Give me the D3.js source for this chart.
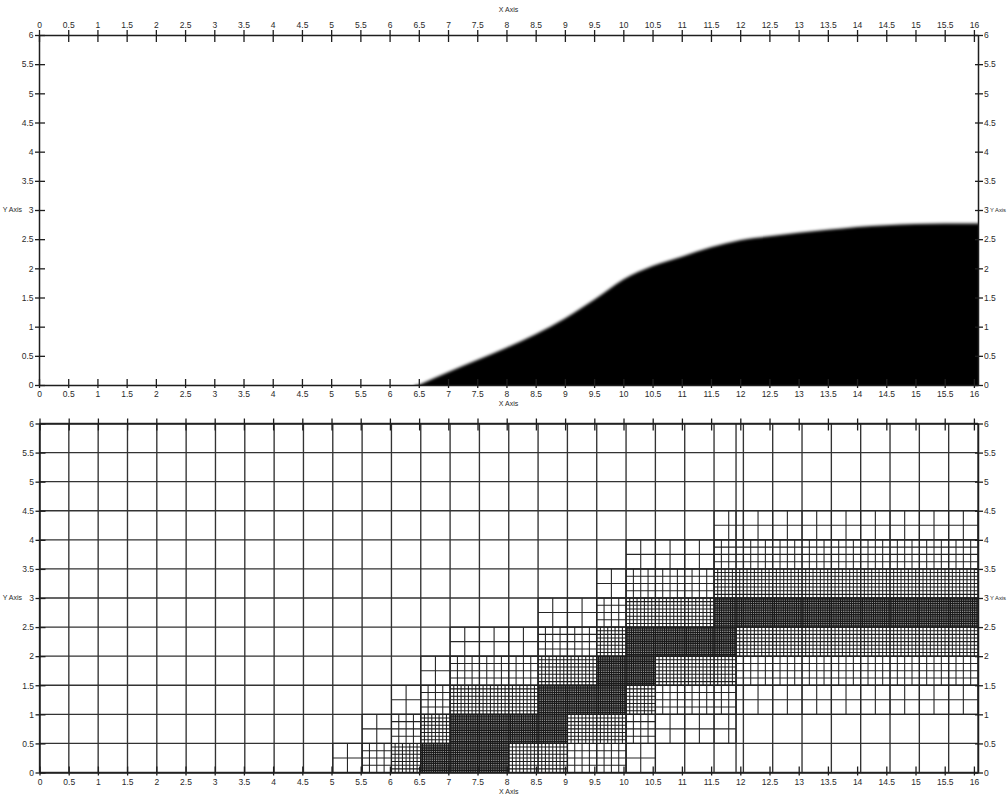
<!DOCTYPE html>
<html><head><meta charset="utf-8">
<script src="https://cdn.jsdelivr.net/npm/d3@7"></script>
<style>
html,body{margin:0;padding:0;background:#fff;}
svg{display:block;}
</style></head><body>
<svg id="c" width="1008" height="796"></svg>
<script>
// ---- data ----
const xTicks = [0,0.5,1,1.5,2,2.5,3,3.5,4,4.5,5,5.5,6,6.5,7,7.5,8,8.5,9,9.5,10,10.5,11,11.5,12,12.5,13,13.5,14,14.5,15,15.5,16];
const yTicks = [0,0.5,1,1.5,2,2.5,3,3.5,4,4.5,5,5.5,6];
const xExtent = [0, 16.07];
const yExtent = [0, 6];
const axisTitleX = "X Axis";
const axisTitleY = "Y Axis";

// top panel: filled front (upper boundary of dark region)
const frontX = [6.5, 7, 7.5, 8, 8.5, 9, 9.5, 10, 10.5, 11, 11.5, 12, 12.5, 13, 13.5, 14, 14.5, 15, 15.5, 16.07];
const frontY = [0, 0.22, 0.43, 0.64, 0.87, 1.14, 1.46, 1.81, 2.04, 2.2, 2.36, 2.48, 2.55, 2.61, 2.66, 2.71, 2.74, 2.76, 2.77, 2.77];

// bottom panel: AMR mesh, mesh units 0..16 x 0..6, cell size = 0.5 / 2^level
const meshExtent = [0, 16];
const blocksL0 = [[0,16,0,6],[11.875,16,0,6]];
const blocksL1 = [[5,5.5,0,0.5],[5.5,6,0.5,1],[6,6.5,1,1.5],[6.5,7,1.5,2],[7,8.5,2,2.5],[8.5,9.5,2.5,3],
  [9.5,10,3,3.5],[10,11.5,3.5,4],[11.5,11.875,4,4.5],[11.875,16,4,4.5],[10,10.5,0,0.5],[10.5,11.875,0.5,1],[11.875,16,1,1.5]];
const blocksL2 = [[5.5,6,0,0.5],[6,6.5,0.5,1],[6.5,7,1,1.5],[7,8.5,1.5,2],[8.5,9.5,2,2.5],[9.5,10,2.5,3],
  [10,11.5,3,3.5],[11.5,11.875,3.5,4],[11.875,16,3.5,4],[9,10,0,0.5],[10,10.5,0.5,1],[10.5,11.875,1,1.5],[11.875,16,1.5,2]];
const blocksL3 = [[6,6.5,0,0.5],[6.5,7,0.5,1],[7,8.5,1,1.5],[8.5,9.5,1.5,2],[9.5,10,2,2.5],[10,11.5,2.5,3],
  [11.5,11.875,3,3.5],[11.875,16,3,3.5],[8,9,0,0.5],[9,10,0.5,1],[10,10.5,1,1.5],[10.5,11.875,1.5,2],[11.875,16,2,2.5]];
const blocksL4 = [[6.5,8,0,0.5],[7,9,0.5,1],[8.5,10,1,1.5],[9.5,10.5,1.5,2],[10,11.875,2,2.5],[11.5,16,2.5,3]];
const meshLevels = [blocksL0, blocksL1, blocksL2, blocksL3, blocksL4];

// ---- drawing ----
const svg = d3.select("#c");
const FONT = "'Liberation Sans', Arial, sans-serif";
const INK = "#1e1e1e";

const xTop = d3.scaleLinear().domain(xExtent).range([39, 978]);
const yTop = d3.scaleLinear().domain(yExtent).range([385, 35]);
const xBot = d3.scaleLinear().domain(xExtent).range([39.5, 978]);
const yBot = d3.scaleLinear().domain(yExtent).range([772.5, 423.5]);
const xMesh = d3.scaleLinear().domain(meshExtent).range([xBot(xExtent[0]), xBot(xExtent[1])]);
const yMesh = yBot;

const defs = svg.append("defs");
defs.append("filter").attr("id","soft").attr("x","-5%").attr("y","-5%").attr("width","110%").attr("height","110%")
  .append("feGaussianBlur").attr("stdDeviation", 1.7);
defs.append("clipPath").attr("id","clipTop").append("rect")
  .attr("x", xTop(xExtent[0])).attr("y", yTop(yExtent[1]))
  .attr("width", xTop(xExtent[1]) - xTop(xExtent[0])).attr("height", yTop(yExtent[0]) - yTop(yExtent[1]));

// top panel filled region
const pts = frontX.map((x,i)=>[x, frontY[i]]);
const lineGen = d3.line().x(d=>xTop(d[0])).y(d=>yTop(d[1])).curve(d3.curveMonotoneX);
const xe = xTop(xExtent[1]) + 12, ye = yTop(yExtent[0]) + 12;
const dFill = lineGen(pts) + `L${xe},${yTop(frontY[frontY.length-1])}L${xe},${ye}L${xTop(frontX[0])-4},${ye}L${xTop(frontX[0])-4},${yTop(0)}Z`;
svg.append("g").attr("clip-path","url(#clipTop)")
  .append("path").attr("d", dFill).attr("fill", "#030303").attr("filter","url(#soft)");

// bottom panel mesh
const meshG = svg.append("g");
const meshStroke = ["#333333", "#262626", "#222222", "#1e1e1e", "#1a1a1a"];
const meshWidth = [1.35, 1.1, 1.05, 1.05, 1.15];
meshLevels.forEach((blocks, level) => {
  const h = 0.5 / Math.pow(2, level);
  let d = "";
  blocks.forEach(([x0,x1,y0,y1]) => {
    const xs = new Set([x0, x1]);
    for (let k = Math.ceil(x0 / h - 1e-9); k * h <= x1 + 1e-9; k++) xs.add(+(k*h).toFixed(6));
    const ys = new Set([y0, y1]);
    for (let k = Math.ceil(y0 / h - 1e-9); k * h <= y1 + 1e-9; k++) ys.add(+(k*h).toFixed(6));
    xs.forEach(x => { d += `M${xMesh(x).toFixed(2)},${yMesh(y0).toFixed(2)}V${yMesh(y1).toFixed(2)}`; });
    ys.forEach(y => { d += `M${xMesh(x0).toFixed(2)},${yMesh(y).toFixed(2)}H${xMesh(x1).toFixed(2)}`; });
  });
  meshG.append("path").attr("d", d).attr("fill","none")
    .attr("stroke", meshStroke[level])
    .attr("stroke-width", meshWidth[level]);
});

// axes
function styleAxis(g, lineAttrs, textAttrs, showText) {
  g.attr("font-family", FONT).attr("font-size", 8.5);
  g.select(".domain").attr("stroke", INK).attr("stroke-width", 1.5);
  g.selectAll(".tick line").attr("stroke", INK).attr("stroke-width", 1.3);
  g.selectAll(".tick line").each(function(){ const s=d3.select(this); for (const k in lineAttrs) s.attr(k, lineAttrs[k]); });
  g.selectAll(".tick text").each(function(){ const s=d3.select(this); for (const k in textAttrs) s.attr(k, textAttrs[k]); })
    .attr("fill", "#2a2a2a").style("display", showText ? null : "none");
}
function fmt(v){ return String(v); }

function panel(x, y, topLabels) {
  const y0 = y(yExtent[0]), y1 = y(yExtent[1]);
  const x0 = x(xExtent[0]), x1 = x(xExtent[1]);
  const gT = svg.append("g").attr("transform", `translate(0,${y1})`)
    .call(d3.axisTop(x).tickValues(xTicks).tickFormat(fmt).tickSizeOuter(0));
  styleAxis(gT, {y1: 7, y2: -5}, {y: -7.5, dy: "0"}, topLabels);
  const gB = svg.append("g").attr("transform", `translate(0,${y0})`)
    .call(d3.axisBottom(x).tickValues(xTicks).tickFormat(fmt).tickSizeOuter(0));
  styleAxis(gB, {y1: -6, y2: 3}, {y: 12, dy: "0"}, true);
  const gL = svg.append("g").attr("transform", `translate(${x0},0)`)
    .call(d3.axisLeft(y).tickValues(yTicks).tickFormat(fmt).tickSizeOuter(0));
  styleAxis(gL, {x1: -4, x2: 6}, {x: -5.5, dy: "0.33em"}, true);
  const gR = svg.append("g").attr("transform", `translate(${x1},0)`)
    .call(d3.axisRight(y).tickValues(yTicks).tickFormat(fmt).tickSizeOuter(0));
  styleAxis(gR, {x1: -3, x2: 5}, {x: 6, dy: "0.33em"}, true);
  const ym = (y0 + y1) / 2;
  svg.append("text").attr("x", 22).attr("y", ym).attr("dy","0.33em").attr("text-anchor","end")
    .attr("font-family", FONT).attr("font-size", 7).attr("fill","#2a2a2a").text(axisTitleY);
  svg.append("text").attr("x", 990).attr("y", ym).attr("dy","0.33em").attr("text-anchor","start")
    .attr("font-family", FONT).attr("font-size", 5.8).attr("fill","#2a2a2a").text(axisTitleY);
  svg.append("text").attr("x", (x0 + x1) / 2).attr("y", y0 + 21).attr("text-anchor","middle")
    .attr("font-family", FONT).attr("font-size", 7).attr("fill","#2a2a2a").text(axisTitleX);
  if (topLabels) {
    svg.append("text").attr("x", (x0 + x1) / 2).attr("y", y1 - 23).attr("text-anchor","middle")
      .attr("font-family", FONT).attr("font-size", 7).attr("fill","#2a2a2a").text(axisTitleX);
  }
}
panel(xTop, yTop, true);
panel(xBot, yBot, false);
</script>
</body></html>
